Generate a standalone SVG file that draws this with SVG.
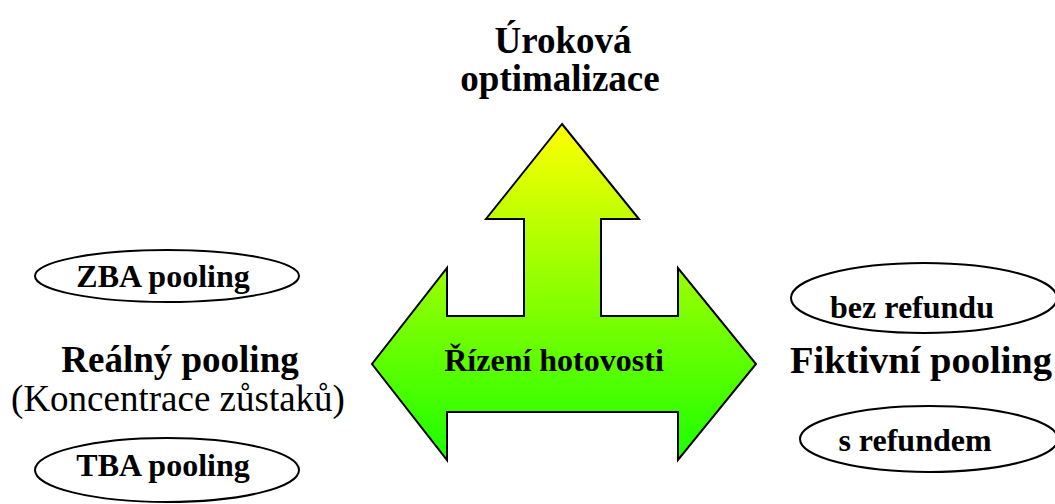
<svg xmlns="http://www.w3.org/2000/svg" width="1055" height="504" viewBox="0 0 1055 504">
  <defs>
    <linearGradient id="arrowFill" gradientUnits="userSpaceOnUse" x1="0" y1="124" x2="0" y2="460">
      <stop offset="0" stop-color="#ffff00"/>
      <stop offset="1" stop-color="#1aff00"/>
    </linearGradient>
  </defs>
  <style>
    text { font-family: "Liberation Serif", "Times New Roman", serif; fill: #000; text-anchor: middle; }
    .big { font-size: 37px; font-weight: bold; }
    .mid { font-size: 32px; font-weight: bold; }
    .sub { font-size: 37px; }
    .oval { fill: #fff; stroke: #000; stroke-width: 2; }
    .arrow { fill: url(#arrowFill); stroke: #000; stroke-width: 2; stroke-linejoin: miter; }
  </style>
  <rect width="1055" height="504" fill="#fff"/>

  <!-- three-way arrow with centre label -->
  <g id="cash-management">
    <polygon class="arrow" points="562,124 639,219 601,219 601,316 678,316 678,268 756,364 678,460 678,412 447,412 447,460 372,364 447,268 447,316 524,316 524,219 486,219"/>
    <text class="mid" x="554" y="371">Řízení hotovosti</text>
  </g>

  <g id="interest-optimisation">
    <text class="big" x="563" y="53">Úroková</text>
    <text class="big" x="560" y="91">optimalizace</text>
  </g>

  <g id="real-pooling">
    <text class="big" x="180" y="372">Reálný pooling</text>
    <text class="sub" x="178" y="411">(Koncentrace zůstaků)</text>
  </g>

  <g id="zba">
    <ellipse class="oval" cx="167" cy="276" rx="132" ry="26"/>
    <text class="mid" x="163" y="287">ZBA pooling</text>
  </g>

  <g id="tba">
    <ellipse class="oval" cx="167" cy="470" rx="132" ry="32"/>
    <text class="mid" x="163" y="476">TBA pooling</text>
  </g>

  <g id="notional-pooling">
    <text class="big" x="921" y="373" textLength="262" lengthAdjust="spacingAndGlyphs">Fiktivní pooling</text>
  </g>

  <g id="no-refund">
    <ellipse class="oval" cx="924" cy="298" rx="133" ry="35"/>
    <text class="mid" x="912" y="318">bez refundu</text>
  </g>

  <g id="with-refund">
    <ellipse class="oval" cx="929" cy="439" rx="129" ry="33"/>
    <text class="mid" x="915" y="451">s refundem</text>
  </g>

  <g id="connectors"/>
</svg>
